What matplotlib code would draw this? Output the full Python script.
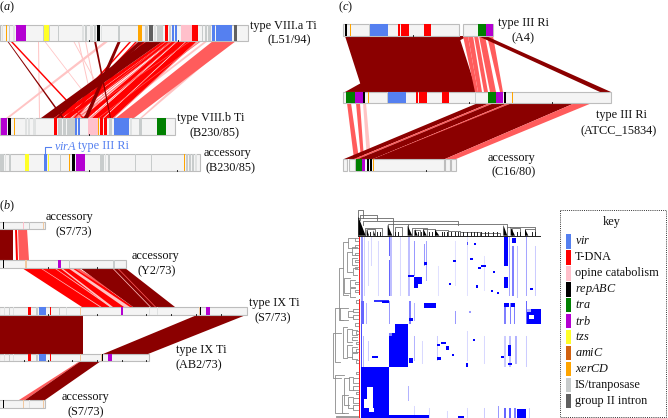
import numpy as np
import matplotlib
matplotlib.use('Agg')
import matplotlib.pyplot as plt
from matplotlib.patches import Rectangle, Polygon

plt.rcParams['font.family'] = ['Liberation Serif', 'DejaVu Serif']
plt.rcParams['mathtext.fontset'] = 'custom'
plt.rcParams['mathtext.rm'] = 'Liberation Serif'
plt.rcParams['mathtext.it'] = 'Liberation Serif:italic'

COLORS = {'vir': '#5580f0', 'tdna': '#ff0000', 'opine': '#ffc0cb', 'rep': '#000000',
          'tra': '#008000', 'trb': '#b400d2', 'tzs': '#ffff28', 'ami': '#d2620f',
          'xer': '#ffa500', 'is': '#c8cccc', 'g2': '#606060', 'lt': '#e0e2e2', 'tan': '#f0c8a0'}
RIBBON = {'dark': '#8b0000', 'red': '#ff0000', 'sal': '#ff5c5c', 'pink': '#ffc4c4'}

KEY_NAMES = ['vir', 'tdna', 'opine', 'rep', 'tra', 'trb', 'tzs', 'ami', 'xer', 'is', 'g2']
KEY_LABELS = [r'$\it{vir}$', 'T-DNA', 'opine catabolism', r'$\it{repABC}$', r'$\it{tra}$',
              r'$\it{trb}$', r'$\it{tzs}$', r'$\it{amiC}$', r'$\it{xerCD}$',
              'IS/tranposase', 'group II intron']

# 基因组片段上的特征 (起点, 终点, 类型)
A1_FEATS = [(2, 3, 'lt'), (6, 7, 'xer'), (9, 10, 'is'), (13, 15, 'lt'), (16, 26, 'trb'),
            (43, 44, 'is'), (44, 49, 'tzs'), (49, 50, 'is'), (58, 59, 'is'), (82, 84, 'lt'),
            (85, 87, 'is'), (90, 93, 'lt'), (94, 96, 'is'), (97, 100, 'rep'), (101, 102, 'lt'),
            (118, 120, 'is'), (138, 142, 'xer'), (145, 148, 'is'), (149, 153, 'g2'), (154, 156, 'lt'),
            (157, 163, 'is'), (165, 168, 'tdna'), (169, 171, 'is'), (172, 174, 'vir'), (175, 177, 'vir'),
            (181, 192, 'opine'), (192, 198, 'tdna'), (202, 203, 'is'), (205, 207, 'is'),
            (208, 211, 'is'), (212, 215, 'vir'), (216, 232, 'vir'), (234, 237, 'g2')]
A2_FEATS = [(1, 7, 'trb'), (8, 11, 'rep'), (14, 15, 'xer'), (25, 27, 'lt'), (28, 30, 'lt'),
            (33, 36, 'lt'), (54, 57, 'tdna'), (58, 62, 'is'), (63, 66, 'is'), (67, 75, 'is'),
            (75, 77, 'vir'), (78, 80, 'vir'), (88, 98, 'opine'), (98, 99, 'xer'), (100, 103, 'tdna'),
            (104, 107, 'tdna'), (109, 112, 'is'), (114, 129, 'vir'), (130, 132, 'lt'),
            (139, 142, 'is'), (157, 166, 'tra')]
A3_FEATS = [(0, 4, 'is'), (5, 6, 'lt'), (9, 11, 'is'), (25, 29, 'tzs'), (44, 47, 'vir'),
            (48, 49, 'tzs'), (60, 61, 'is'), (69, 70, 'xer'), (72, 75, 'rep'), (76, 85, 'trb'),
            (100, 104, 'is'), (105, 106, 'lt'), (108, 110, 'is'), (135, 136, 'is'), (151, 152, 'is'),
            (184, 185, 'xer'), (186, 188, 'is'), (189, 191, 'is'), (192, 194, 'is'), (195, 197, 'lt')]
B1_FEATS = [(4, 5, 'rep'), (24, 25, 'opine'), (30, 31, 'is'), (44, 45, 'tan')]
B2_FEATS = [(4, 5, 'rep'), (26, 28, 'tan'), (59, 62, 'trb'), (70, 71, 'is'), (114, 116, 'is')]
B3_FEATS = [(5, 6, 'lt'), (10, 11, 'is'), (14, 15, 'lt'), (29, 32, 'tdna'), (37, 39, 'is'),
            (40, 47, 'vir'), (51, 52, 'tdna'), (60, 61, 'is'), (67, 68, 'lt'), (81, 82, 'tan'),
            (122, 124, 'trb'), (150, 151, 'lt'), (158, 159, 'lt'), (200, 201, 'tan'),
            (201, 202, 'rep'), (207, 211, 'trb')]
B4_FEATS = [(5, 6, 'lt'), (10, 11, 'is'), (14, 15, 'lt'), (29, 32, 'tdna'), (37, 39, 'is'),
            (40, 47, 'vir'), (51, 52, 'tdna'), (81, 82, 'tan'), (102, 103, 'tan'), (103, 104, 'rep'),
            (109, 113, 'trb')]
B5_FEATS = [(4, 5, 'rep'), (24, 25, 'tan'), (30, 31, 'lt'), (44, 45, 'tan')]
C1A_FEATS = [(2, 4, 'rep'), (7, 8, 'xer'), (26, 27, 'is'), (27, 45, 'vir'), (55, 57, 'tdna'),
             (58, 66, 'tdna'), (81, 88, 'tdna')]
C1B_FEATS = [(15, 23, 'tra'), (23, 30, 'trb')]
C2_FEATS = [(3, 12, 'tra'), (12, 20, 'trb'), (20, 22, 'rep'), (25, 26, 'xer'), (44, 45, 'is'),
            (45, 63, 'vir'), (73, 75, 'tdna'), (76, 84, 'tdna'), (99, 106, 'tdna'),
            (132, 133, 'is'), (145, 153, 'tra'), (153, 160, 'trb'), (161, 163, 'rep'),
            (169, 170, 'xer')]
C3_FEATS = [(0, 6, 'tra'), (6, 9, 'trb'), (11, 13, 'rep'), (14, 16, 'rep'), (17, 18, 'xer')]

# 片段之间的同源带 (上起点, 上终点, 下起点, 下终点, 颜色)
A12_RIBBONS = [
    (105, 109, 6, 9, 'pink'), (38, 39, 39, 40, 'pink'), (44, 45, 103, 104, 'pink'),
    (73, 74, 115, 116, 'pink'), (78, 79, 95, 96, 'pink'), (85, 86, 100, 101, 'pink'),
    (175, 178, 75, 78, 'pink'), (180, 183, 92, 95, 'pink'), (186, 190, 78, 82, 'pink'),
    (198, 202, 88, 92, 'pink'), (205, 208, 105, 108, 'pink'), (215, 220, 118, 120, 'pink'),
    (225, 232, 140, 142, 'pink'),
    (10, 12, 82, 84, 'red'), (130, 132, 60, 62, 'red'), (136, 138, 64, 66, 'red'),
    (140, 142, 68, 70, 'red'), (144, 146, 73, 76, 'red'), (163, 167, 54, 62, 'red'),
    (167, 172, 63, 70, 'red'), (172, 177, 82, 88, 'red'), (178, 186, 92, 103, 'red'),
    (187, 197, 104, 113, 'red'), (166, 167, 71, 72, 'sal'), (170, 171, 74, 75, 'sal'),
    (172, 173, 78, 79, 'sal'), (176, 177, 90, 91, 'sal'), (190, 191, 76, 77, 'sal'),
    (197, 198, 113, 114, 'sal'), (200, 201, 98, 99, 'sal'),
    (213, 236, 116, 134, 'sal'),
    (7, 8, 62, 64, 'dark'), (94, 96, 110, 111, 'dark'), (118, 121, 84, 88, 'dark'),
    (139, 145, 56, 58, 'dark'), (147, 163, 41, 54, 'dark')]
B12_RIBBONS = [(0, 13, 0, 13, 'dark'), (15, 17, 16, 18, 'red'), (18, 27, 19, 29, 'sal')]
B23_RIBBONS = [(22, 78, 82, 133, 'red'), (40, 41, 100, 101.5, 'pink'), (54, 55, 110, 112, 'pink'),
               (60, 62, 110, 113, 'pink'), (68, 72, 124, 130, 'pink'), (74, 78, 136, 140, 'sal'),
               (80, 125, 133, 175, 'dark'), (112, 113, 150, 151, 'pink'), (117, 118, 155, 156, 'sal')]
B34_RIBBONS = [(0, 83, 0, 83, 'dark'), (197, 246, 103, 148, 'dark')]
B45_RIBBONS = [(80, 81, 19, 25, 'sal'), (81, 101, 25, 45, 'dark')]
C12_RIBBONS = [(445, 468, 345, 363, 'dark'), (345, 459, 363, 477, 'dark'),
               (463, 468, 475, 478, 'sal'), (468, 473, 478, 482, 'sal'), (474, 478, 484, 488, 'sal'),
               (479, 485, 490, 496, 'sal'), (487, 493, 500, 503, 'sal'),
               (478, 486, 600, 611, 'dark')]
C23_RIBBONS = [(347, 351, 354, 359, 'sal'), (356, 360, 361, 364, 'sal'), (363, 366, 367, 371, 'pink'),
               (478, 490, 344, 354, 'dark'), (490, 494, 354, 358, 'sal'), (494, 508, 358, 373, 'dark'),
               (508, 512, 373, 376, 'sal'), (512, 575, 373, 445, 'dark'), (575, 592, 445, 456, 'sal')]

# 热图色块 (列起, 列止, 行起, 行止, 值)
HEAT_STRIPES = [
    (2, 4, 0, 65, .4), (5, 6, 0, 60, .2), (9, 10, 5, 50, .15), (12, 13, 0, 30, .15), (19, 20, 5, 60, .15),
    (30, 31, 0, 20, .6), (30, 31, 24, 60, .6), (31, 33, 0, 60, .25), (41, 42, 0, 60, .15),
    (49, 51, 0, 60, .25), (55, 56, 5, 40, .4), (65, 66, 8, 30, .4), (67, 68, 5, 45, .35),
    (79, 80, 30, 60, .12), (96, 97, 5, 50, .12), (108, 109, 0, 60, .12), (125, 126, 20, 55, .12),
    (150, 151, 0, 60, .35), (153, 155, 10, 60, .5), (158, 159, 10, 62, .25), (167, 168, 0, 60, .35),
    (176, 177, 10, 60, .2), (2, 5, 65, 88, .6), (7, 8, 67, 88, .3), (30, 31, 65, 88, .4),
    (50, 52, 65, 88, .5), (55, 56, 67, 85, .3), (96, 97, 75, 88, .4), (145, 147, 67, 88, .5),
    (151, 152, 67, 88, .5), (155, 156, 67, 88, .5), (167, 168, 65, 88, .6), (176, 177, 78, 88, .3),
    (2, 3, 88, 131, .7), (4, 5, 100, 131, .3), (9, 10, 105, 125, .2), (55, 56, 100, 125, .3),
    (63, 64, 105, 128, .15), (78, 79, 100, 125, .2), (108, 109, 95, 125, .15), (125, 126, 100, 128, .15),
    (145, 147, 100, 131, .2), (150, 152, 100, 131, .25), (156, 158, 100, 128, .3), (167, 168, 100, 131, .2),
    (49, 50, 150, 165, .3), (125, 126, 172, 182, .2), (139, 140, 170, 182, .4), (145, 147, 172, 182, .6),
    (150, 152, 172, 182, .6), (155, 157, 172, 182, .5), (170, 171, 172, 182, .2), (55, 56, 170, 182, .15),
    (70, 71, 172, 182, .15), (88, 89, 175, 182, .15), (108, 109, 172, 182, .15)]
HEAT_BLOCKS = [
    (2, 30, 131, 182, 1), (8, 14, 151, 172, 0), (5, 8, 163, 172, 0), (10, 15, 172, 176, 0),
    (30, 49, 88, 131, 1), (30, 36, 88, 97, 0), (30, 33, 97, 100, .5), (30, 70, 179, 182, 1),
    (168, 182, 73, 88, 1), (170, 175, 79, 83, 0), (168, 172, 73, 76, 0.3),
    (65, 77, 67, 72, 1), (55, 63, 41, 48, 1), (49, 55, 39, 41, 1), (55, 59, 48, 52, 1),
    (15, 30, 64, 66, .8), (23, 30, 65, 67, 1), (145, 149, 0, 30, 1), (145, 149, 41, 52, 1),
    (145, 150, 67, 71, 1), (153, 157, 2, 7, 1), (152, 156, 67, 71, 1), (149, 152, 109, 120, 1),
    (158, 167, 173, 182, 1), (50, 54, 122, 127, 1), (94, 97, 24, 26, 1), (111, 114, 22, 24, 1),
    (122, 127, 29, 31, 1), (119, 122, 31, 33, 1), (134, 136, 35, 37, 1), (90, 92, 47, 49, 1),
    (117, 119, 49, 52, 1), (132, 134, 54, 56, 1), (138, 140, 56, 58, 1), (171, 174, 52, 54, 1),
    (78, 82, 121, 124, 1), (82, 87, 106, 108, 1), (78, 81, 108, 110, 1), (87, 90, 110, 114, 1),
    (93, 95, 118, 120, 1), (13, 19, 120, 122, 1), (107, 109, 127, 131, 1), (142, 145, 120, 122, 1),
    (149, 153, 127, 129, 1), (114, 116, 103, 105, 1), (99, 105, 180, 182, 1), (50, 54, 82, 85, 1),
    (115, 117, 7, 9, 1), (65, 68, 26, 29, 1), (108, 109, 6, 9, .7), (110, 112, 75, 77, .4)]
TOP_BRANCHES = [(115, 130, 15, 40), (120, 172, 30, 45), (115, 218, 40, 92), (130, 415, 48, 60),
                (203, 263, 56, 62), (263, 560, 58, 70), (135, 185, 68, 92), (140, 165, 72, 92),
                (275, 320, 70, 92), (283, 300, 76, 92), (310, 345, 72, 92), (345, 385, 74, 92),
                (560, 645, 65, 92), (575, 600, 68, 92), (615, 645, 72, 92), (385, 420, 78, 92),
                (420, 480, 82, 92), (480, 540, 83, 92), (225, 245, 66, 92)]
TOP_CLUSTERS = [(115, 137, 35), (203, 217, 60), (263, 277, 62), (550, 562, 60), (572, 585, 66),
                (285, 293, 72), (310, 320, 72), (345, 358, 74), (615, 625, 72), (140, 147, 72),
                (160, 166, 76)]
TOP_SMALL = [150, 172, 180, 225, 235, 295, 303, 328, 336, 365, 373, 380, 392, 404, 415, 430, 441,
             452, 462, 472, 484, 496, 505, 520, 532, 592, 600, 635, 645]
LEFT_BRANCHES = [(38, 385, 520, 62), (46, 310, 470, 60), (46, 510, 625, 72), (58, 190, 345, 70),
                 (70, 110, 270, 85), (85, 100, 130, 105), (80, 140, 200, 95), (95, 125, 150, 110),
                 (95, 160, 180, 110), (98, 190, 210, 110), (72, 220, 265, 90), (90, 225, 245, 105),
                 (90, 250, 275, 105), (60, 310, 345, 85), (85, 318, 335, 100), (100, 312, 322, 115),
                 (100, 330, 342, 115), (70, 365, 460, 80), (80, 372, 410, 95), (95, 375, 390, 110),
                 (95, 395, 405, 110), (80, 420, 455, 95), (95, 425, 440, 110), (95, 445, 462, 110),
                 (72, 520, 600, 88), (88, 515, 555, 100), (100, 520, 535, 115), (100, 542, 555, 115),
                 (65, 570, 625, 85), (85, 575, 610, 100), (100, 580, 595, 115), (100, 600, 615, 115),
                 (105, 100, 108, 115), (105, 120, 128, 115), (105, 143, 150, 115), (105, 165, 172, 115),
                 (105, 185, 192, 115), (105, 230, 238, 115), (105, 255, 262, 115), (108, 285, 295, 115),
                 (105, 355, 362, 115), (108, 378, 386, 115), (108, 410, 418, 115), (108, 432, 440, 115),
                 (108, 465, 475, 115), (108, 500, 508, 115), (108, 560, 568, 115), (48, 632, 636, 115)]


def draw_track(ax, x0, x1, y0, y1, feats=(), ticks=()):
    ax.add_patch(Rectangle((x0, y0), x1 - x0, y1 - y0, fc='#f4f4f4', ec='#bdbdbd', lw=0.8, zorder=3))
    for s, e, name in feats:
        ax.add_patch(Rectangle((x0 + s, y0), e - s, y1 - y0, fc=COLORS[name], ec='none', zorder=4))
    for t in ticks:
        ax.plot([x0 + t, x0 + t], [y1 - 1.5, y1 - 0.5], color='k', lw=0.6, zorder=5)


def draw_ribbons(ax, ribbons, ytop, ybot):
    for t0, t1, b0, b1, kind in ribbons:
        pts = [(t0, ytop), (t1, ytop), (b1, ybot), (b0, ybot)]
        ax.add_patch(Polygon(pts, closed=True, fc=RIBBON[kind], ec='none', zorder=2))


def zx(v):
    return 320 + v / 3


def zy(v):
    return 205 + v / 3


def label(ax, x, y, s, **kw):
    ax.text(x, y, s, ha='center', va='center', fontsize=8.8, color=kw.pop('color', '#111111'), **kw)


fig = plt.figure(figsize=(6.68, 4.18), dpi=100)
ax = fig.add_axes([0, 0, 1, 1])
ax.set_xlim(0, 668)
ax.set_ylim(418, 0)
ax.axis('off')

# (a)
draw_ribbons(ax, A12_RIBBONS, 41, 118)
draw_track(ax, 0, 248, 25, 41, A1_FEATS, ticks=[89, 178])
draw_track(ax, 0, 175, 118, 135, A2_FEATS, ticks=[89])
draw_track(ax, 0, 200, 154, 171, A3_FEATS, ticks=[89, 177])
ax.plot([45, 45, 51], [154, 146.5, 146.5], color=COLORS['vir'], lw=0.8)
ax.text(54, 146.5, r'$\it{virA}$', color=COLORS['vir'], va='center', fontsize=8.8)
ax.text(78, 146.5, 'type III Ri', color=COLORS['vir'], va='center', fontsize=8.8)
label(ax, 7, 7, r'($\it{a}$)')
label(ax, 283, 26, 'type VIII.a Ti')
label(ax, 289, 40, '(L51/94)')
label(ax, 211, 118, 'type VIII.b Ti')
label(ax, 214, 133, '(B230/85)')
label(ax, 227, 153, 'accessory')
label(ax, 230, 168, '(B230/85)')

# (b)
draw_ribbons(ax, B12_RIBBONS, 229, 260)
draw_ribbons(ax, B23_RIBBONS, 268, 307)
draw_ribbons(ax, B34_RIBBONS, 315, 354)
draw_ribbons(ax, B45_RIBBONS, 361, 400)
draw_track(ax, -1, 45, 222, 229, B1_FEATS)
draw_track(ax, -1, 126, 260, 268, B2_FEATS, ticks=[49, 98])
draw_track(ax, -1, 247, 307, 315, B3_FEATS, ticks=[49, 98, 147, 172, 197, 222])
draw_track(ax, -1, 149, 354, 361, B4_FEATS, ticks=[25, 49, 73, 98, 123, 147])
draw_track(ax, -1, 45, 400, 408, B5_FEATS)
label(ax, 7, 206, r'($\it{b}$)')
label(ax, 70, 217, 'accessory')
label(ax, 74, 232, '(S7/73)')
label(ax, 155, 256, 'accessory')
label(ax, 157, 271, '(Y2/73)')
label(ax, 274, 303, 'type IX Ti')
label(ax, 273, 318, '(S7/73)')
label(ax, 201, 350, 'type IX Ti')
label(ax, 199, 365, '(AB2/73)')
label(ax, 85, 397, 'accessory')
label(ax, 86, 412, '(S7/73)')

# (c)
draw_ribbons(ax, C12_RIBBONS, 36, 92)
draw_ribbons(ax, C23_RIBBONS, 103, 159)
draw_track(ax, 343, 459, 24, 36, C1A_FEATS, ticks=[70])
draw_track(ax, 463, 493, 24, 36, C1B_FEATS)
draw_track(ax, 343, 611, 92, 103, C2_FEATS, ticks=[126, 209])
draw_track(ax, 343, 347, 159, 171)
draw_track(ax, 349, 355, 159, 171)
draw_track(ax, 356, 444, 159, 171, C3_FEATS, ticks=[70])
draw_track(ax, 445, 450, 159, 171)
draw_track(ax, 451, 456, 159, 171)
label(ax, 346, 7, r'($\it{c}$)')
label(ax, 523, 23, 'type III Ri')
label(ax, 523, 38, '(A4)')
label(ax, 622, 115, 'type III Ri')
label(ax, 619, 131, '(ATCC_15834)')
label(ax, 511, 158, 'accessory')
label(ax, 514, 172, '(C16/80)')

# 热图
grid = np.zeros((182, 182))
for c0, c1, r0, r1, v in HEAT_STRIPES:
    grid[r0:r1, c0:c1] = v
for c0, c1, r0, r1, v in HEAT_BLOCKS:
    grid[r0:r1, c0:c1] = v
cmap = matplotlib.colors.LinearSegmentedColormap.from_list('wb', ['#ffffff', '#0000ff'])
ax.imshow(grid, extent=(358.5, 540, 418, 236), cmap=cmap, vmin=0, vmax=1,
          interpolation='bilinear', aspect='auto', zorder=1)
ax.set_xlim(0, 668)
ax.set_ylim(418, 0)
ax.add_patch(Rectangle((358.5, 236), 1.8, 182, fc='#ff2020', ec='none', zorder=2))
ax.add_patch(Rectangle((358.5, 295), 1.8, 4, fc='white', ec='none', zorder=2))

for x0, x1, lev, bot in TOP_BRANCHES:
    ax.plot([zx(x0), zx(x0), zx(x1), zx(x1)], [zy(bot), zy(lev), zy(lev), zy(bot)],
            color='#666666', lw=0.6, zorder=3)
for x0, x1, lev in TOP_CLUSTERS:
    pts = [(zx(x0), zy(lev)), (zx(x1), zy(92)), (zx(x0), zy(92))]
    ax.add_patch(Polygon(pts, closed=True, fc='black', ec='none', zorder=4))
for x in TOP_SMALL:
    ax.plot([zx(x), zx(x)], [zy(92), zy(81)], color='#222222', lw=0.7, zorder=3)
ax.plot([zx(115), zx(660)], [zy(92), zy(92)], color='#222222', lw=0.7, zorder=3)
for lev, y0, y1, end in LEFT_BRANCHES:
    ax.plot([zx(end), zx(lev), zx(lev), zx(end)], [zy(y0), zy(y0), zy(y1), zy(y1)],
            color='#8a8a8a', lw=0.6, zorder=3)

# 图例
ax.add_patch(Rectangle((560, 210), 106, 207, fc='none', ec='#333333', lw=0.7, ls=(0, (1, 1.2))))
label(ax, 611.5, 222.5, 'key')
for i, (name, text) in enumerate(zip(KEY_NAMES, KEY_LABELS)):
    ytop = 234 + i * 15.97
    ax.add_patch(Rectangle((566, ytop), 5, 14.6, fc=COLORS[name], ec='none'))
    ax.text(575, ytop + 7.5, text, ha='left', va='center', fontsize=8.8, color='#111111')

fig.savefig('out.png', dpi=100)
